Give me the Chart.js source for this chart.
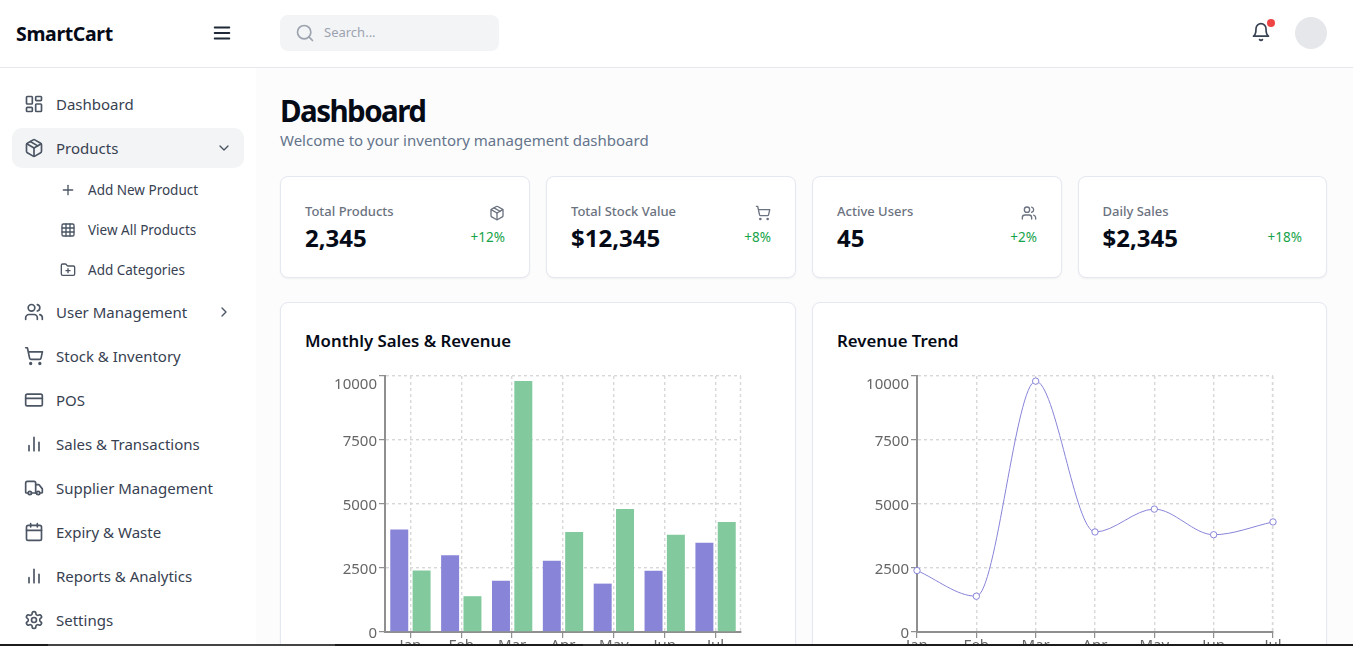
<!DOCTYPE html>
<html><head><meta charset="utf-8">
<script src="https://cdn.jsdelivr.net/npm/chart.js@4"></script>
<style>
*{box-sizing:border-box}
html,body{margin:0;padding:0;width:1353px;height:646px;overflow:hidden;background:#fcfcfd;font-family:"Noto Sans",sans-serif}
.a{position:absolute;white-space:nowrap}
.t{position:absolute;white-space:nowrap;transform:translateY(-50%);line-height:1.2}
.card{position:absolute;background:#fff;border:1px solid #e4e8f0;border-radius:8px;box-shadow:0 1px 2px rgba(0,0,0,.05)}
svg.i{position:absolute;fill:none;stroke:currentColor;stroke-width:2;stroke-linecap:round;stroke-linejoin:round}
#bottom{position:absolute;left:0;top:644px;width:1353px;height:2px;background:#1c1c1c;z-index:9}
#bottom div{position:absolute;top:0;height:2px}
</style></head><body>
<div class="a" style="left:0;top:0;width:1353px;height:68px;background:#fff;border-bottom:1px solid #e5e7eb"></div>
<div class="a" style="left:0;top:68px;width:256px;height:578px;background:#fff;"></div>
<div class="a" style="left:12px;top:128px;width:232px;height:40px;background:#f3f4f6;border-radius:10px"></div>
<div class="a" style="left:280px;top:15px;width:219px;height:36px;background:#f3f4f6;border-radius:8px"></div>
<div class="a" style="left:1295px;top:17px;width:32px;height:32px;background:#e5e7eb;border-radius:50%"></div>
<div class="a" style="left:1267px;top:19px;width:8px;height:8px;background:#ef4444;border-radius:50%;z-index:3"></div>
<div class="card" style="left:280px;top:302px;width:516px;height:400px"></div>
<div class="card" style="left:812px;top:302px;width:515px;height:400px"></div>
<div id="ui"></div>
<div class="a" style="left:305px;top:371px;width:466px;height:296px"><canvas id="barChart"></canvas></div>
<div class="a" style="left:837px;top:371px;width:466px;height:296px"><canvas id="lineChart"></canvas></div>
<div id="bottom"><div style="left:48px;width:287px;background:#444"></div><div style="left:583px;width:47px;background:#333"></div></div>
<script>
const months=["Jan","Feb","Mar","Apr","May","Jun","Jul"];
const salesValues=[4000,3000,2000,2780,1890,2390,3490];
const revenueValues=[2400,1398,9800,3908,4800,3800,4300];
const trendValues=[2400,1398,9800,3908,4800,3800,4300];
const yTicks=[0,2500,5000,7500,10000];

const ICONS={
dash:'<rect x="3" y="3" width="7" height="9" rx="1"/><rect x="14" y="3" width="7" height="5" rx="1"/><rect x="14" y="12" width="7" height="9" rx="1"/><rect x="3" y="16" width="7" height="5" rx="1"/>',
box:'<path d="M21 8a2 2 0 0 0-1-1.73l-7-4a2 2 0 0 0-2 0l-7 4A2 2 0 0 0 3 8v8a2 2 0 0 0 1 1.73l7 4a2 2 0 0 0 2 0l7-4A2 2 0 0 0 21 16Z"/><path d="m3.3 7 8.7 5 8.7-5"/><path d="M12 22V12"/><path d="m7.5 4.27 9 5.15"/>',
plus:'<path d="M5 12h14"/><path d="M12 5v14"/>',
grid:'<rect x="3" y="3" width="18" height="18" rx="2"/><path d="M3 9h18M3 15h18M9 3v18M15 3v18"/>',
folder:'<path d="M12 10v6M9 13h6"/><path d="M20 20a2 2 0 0 0 2-2V8a2 2 0 0 0-2-2h-7.9a2 2 0 0 1-1.69-.9L9.6 3.9A2 2 0 0 0 7.93 3H4a2 2 0 0 0-2 2v13a2 2 0 0 0 2 2Z"/>',
users:'<path d="M16 21v-2a4 4 0 0 0-4-4H6a4 4 0 0 0-4 4v2"/><circle cx="9" cy="7" r="4"/><path d="M22 21v-2a4 4 0 0 0-3-3.87"/><path d="M16 3.13a4 4 0 0 1 0 7.75"/>',
cart:'<circle cx="8" cy="21" r="1"/><circle cx="19" cy="21" r="1"/><path d="M2.05 2.05h2l2.66 12.42a2 2 0 0 0 2 1.58h9.78a2 2 0 0 0 1.95-1.57l1.65-7.43H5.12"/>',
card:'<rect x="2" y="5" width="20" height="14" rx="2"/><path d="M2 10h20"/>',
bars:'<path d="M18 20V10M12 20V4M6 20v-6"/>',
truck:'<path d="M14 18V6a2 2 0 0 0-2-2H4a2 2 0 0 0-2 2v11a1 1 0 0 0 1 1h2"/><path d="M15 18H9"/><path d="M19 18h2a1 1 0 0 0 1-1v-3.65a1 1 0 0 0-.22-.624l-3.48-4.35A1 1 0 0 0 17.52 8H14"/><circle cx="17" cy="18" r="2"/><circle cx="7" cy="18" r="2"/>',
cal:'<path d="M8 2v4M16 2v4"/><rect x="3" y="4" width="18" height="18" rx="2"/><path d="M3 10h18"/>',
gear:'<path d="M12.22 2h-.44a2 2 0 0 0-2 2v.18a2 2 0 0 1-1 1.73l-.43.25a2 2 0 0 1-2 0l-.15-.08a2 2 0 0 0-2.73.73l-.22.38a2 2 0 0 0 .73 2.73l.15.1a2 2 0 0 1 1 1.72v.51a2 2 0 0 1-1 1.74l-.15.09a2 2 0 0 0-.73 2.73l.22.38a2 2 0 0 0 2.73.73l.15-.08a2 2 0 0 1 2 0l.43.25a2 2 0 0 1 1 1.73V20a2 2 0 0 0 2 2h.44a2 2 0 0 0 2-2v-.18a2 2 0 0 1 1-1.73l.43-.25a2 2 0 0 1 2 0l.15.08a2 2 0 0 0 2.73-.73l.22-.39a2 2 0 0 0-.73-2.73l-.15-.08a2 2 0 0 1-1-1.74v-.5a2 2 0 0 1 1-1.74l.15-.09a2 2 0 0 0 .73-2.73l-.22-.38a2 2 0 0 0-2.73-.73l-.15.08a2 2 0 0 1-2 0l-.43-.25a2 2 0 0 1-1-1.73V4a2 2 0 0 0-2-2z"/><circle cx="12" cy="12" r="3"/>',
bell:'<path d="M6 8a6 6 0 0 1 12 0c0 7 3 9 3 9H3s3-2 3-9"/><path d="M10.3 21a1.94 1.94 0 0 0 3.4 0"/>',
search:'<circle cx="11" cy="11" r="8"/><path d="m21 21-4.3-4.3"/>',
menu:'<path d="M4 6h16M4 12h16M4 18h16"/>',
down:'<path d="m6 9 6 6 6-6"/>',
right:'<path d="m9 18 6-6-6-6"/>'
};
const ui=document.getElementById('ui');
function icon(n,x,cy,s,c){ui.insertAdjacentHTML('beforeend',`<svg class="i" viewBox="0 0 24 24" width="${s}" height="${s}" style="left:${x}px;top:${cy-s/2}px;color:${c}">${ICONS[n]}</svg>`)}
function text(s,x,cy,size,c,w,extra){ui.insertAdjacentHTML('beforeend',`<div class="t" style="left:${x}px;top:${cy}px;font-size:${size}px;color:${c};font-weight:${w||400};${extra||''}">${s}</div>`)}

text('SmartCart',16,34,19.5,'#050a17',700,'letter-spacing:-.35px');
icon('menu',211,33,22,'#1f2937');
icon('search',295,33,20,'#9ca3af');
text('Search...',324,33,13,'#9ca3af');
icon('bell',1251,32,20,'#374151');

const NAV=[['dash','Dashboard',104],['box','Products',148],['users','User Management',312],['cart','Stock &amp; Inventory',356],['card','POS',400],['bars','Sales &amp; Transactions',444],['truck','Supplier Management',488],['cal','Expiry &amp; Waste',532],['bars','Reports &amp; Analytics',576],['gear','Settings',620]];
NAV.forEach(n=>{icon(n[0],24,n[2],20,'#4b5563');text(n[1],56,n[2],15,'#374151')});
icon('down',216,148,16,'#4b5563');icon('right',216,312,16,'#4b5563');
[['plus','Add New Product',190],['grid','View All Products',230],['folder','Add Categories',270]].forEach(n=>{icon(n[0],60,n[2],16,'#4b5563');text(n[1],88,n[2]-.5,13.5,'#374151')});

text('Dashboard',280,111,29.5,'#050a17',700,'letter-spacing:-1.55px');
text('Welcome to your inventory management dashboard',280,140,15,'#64748b');

const STATS=[['Total Products','2,345','+12%','box',280,250],['Total Stock Value','$12,345','+8%','cart',546,250],['Active Users','45','+2%','users',812,250],['Daily Sales','$2,345','+18%',null,1077.5,249.5]];
STATS.forEach(s=>{
 ui.insertAdjacentHTML('beforeend',`<div class="card" style="left:${s[4]}px;top:176px;width:${s[5]}px;height:102px"></div>`);
 const x=s[4]+25,r=s[4]+s[5]-25;
 text(s[0],x,212,13,'#6b7280',500);
 text(s[1],x,238,24,'#050a17',700);
 text(s[2],r,237,13.5,'#16a34a',400,'transform:translate(-100%,-50%)');
 if(s[3])icon(s[3],r-16,213,16,'#6b7280');
});
text('Monthly Sales &amp; Revenue',305,341,16.8,'#050a17',600);
text('Revenue Trend',837,341,16.8,'#050a17',600);

const rightEdge={id:'rightEdge',beforeDatasetsDraw(c){const g=c.ctx,a=c.chartArea;g.save();g.strokeStyle='#d8d8d8';g.setLineDash([3,3]);g.lineWidth=1.4;g.beginPath();g.moveTo(Math.round(a.right)-.5,a.top);g.lineTo(Math.round(a.right)-.5,a.bottom);g.stroke();g.restore();}};

function axes(offset){return {
 x:{offset,grid:{offset:false,color:'#d8d8d8',lineWidth:1.4,tickColor:'#777',tickWidth:1,tickLength:6,drawOnChartArea:true},
    border:{color:'#8f8f8f',width:2,dash:[3,3]},
    ticks:{color:'#666',font:{family:'"Noto Sans"',size:15},padding:-1,maxRotation:0,autoSkip:false},
    afterFit(s){s.height=30;s.paddingLeft=0;s.paddingRight=0}},
 y:{min:0,max:10000,
    afterBuildTicks(s){s.ticks=yTicks.map(v=>({value:v}))},
    afterFit(s){s.width=80;s.paddingTop=0;s.paddingBottom=0},
    grid:{color:'#d8d8d8',lineWidth:1.4,tickColor:'#777',tickWidth:1,tickLength:6},
    border:{color:'#8f8f8f',width:2,dash:[3,3]},
    ticks:{color:'#666',padding:2,labelOffset:2,
      font:{family:'"Noto Sans"',size:15,lineHeight:'14px'},
      callback:v=>v===10000?['',String(v)]:String(v)}}
}}
const common={responsive:true,maintainAspectRatio:false,animation:false,
 layout:{padding:{top:5,right:30,bottom:5,left:0}},
 plugins:{legend:{display:false},tooltip:{enabled:false}}};

new Chart(document.getElementById('barChart'),{type:'bar',plugins:[rightEdge],
 data:{labels:months,datasets:[
  {label:'Sales',data:salesValues,backgroundColor:'#8884d8',categoryPercentage:.8785,barPercentage:.805},
  {label:'Revenue',data:revenueValues,backgroundColor:'#82ca9d',categoryPercentage:.8785,barPercentage:.805}]},
 options:{...common,scales:axes(true)}});
new Chart(document.getElementById('lineChart'),{type:'line',plugins:[rightEdge],
 data:{labels:months,datasets:[
  {label:'Revenue',data:trendValues,borderColor:'#8884d8',borderWidth:1,cubicInterpolationMode:'monotone',fill:false,
   pointRadius:3.2,pointBorderWidth:1,pointBackgroundColor:'#fff',pointBorderColor:'#8884d8',clip:false}]},
 options:{...common,scales:axes(false)}});
</script>
</body></html>
